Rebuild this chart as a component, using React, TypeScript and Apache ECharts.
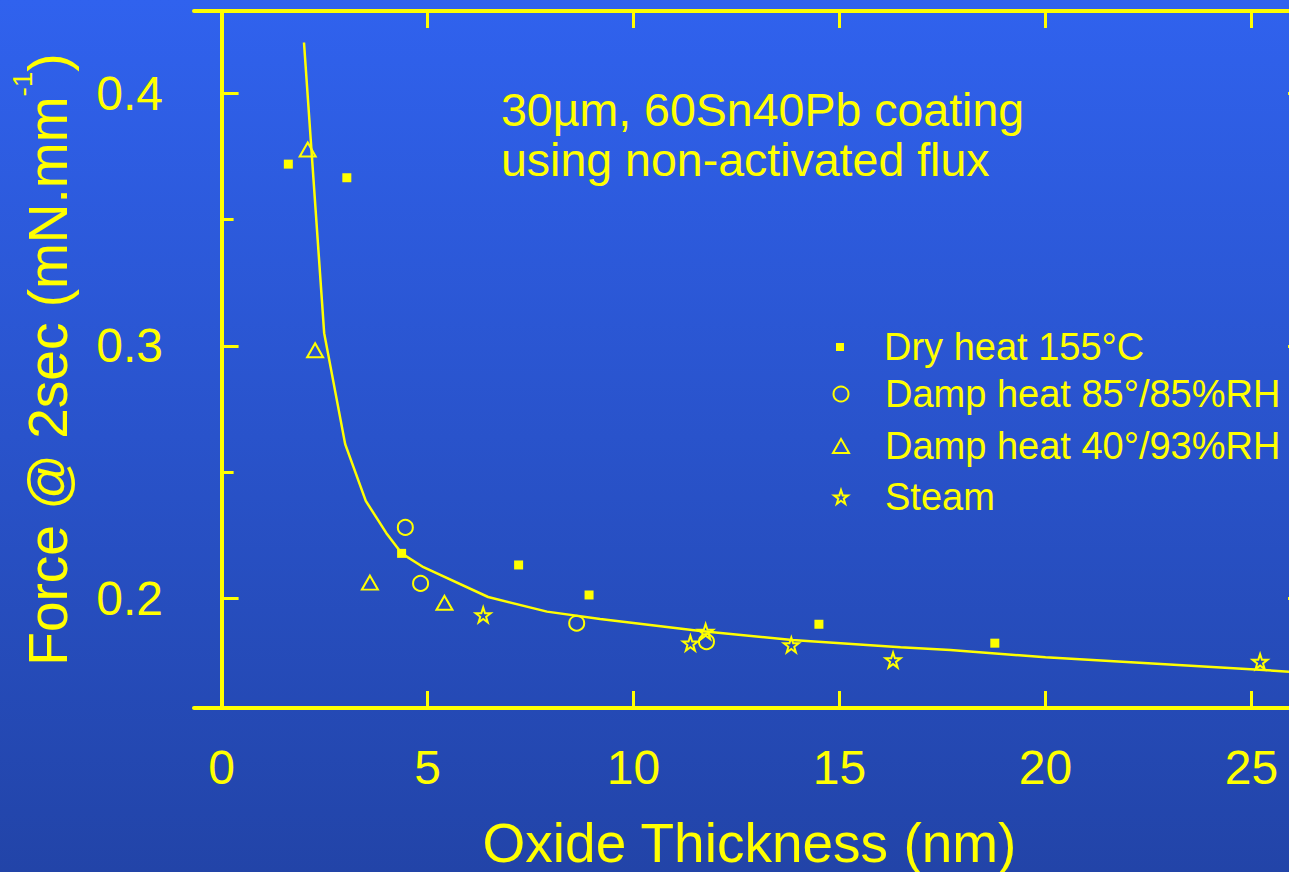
import React, { useEffect, useRef } from "react";
import * as echarts from "echarts";

const YELLOW = "#ffff00";
const FONT = "'Liberation Sans', Arial, Helvetica, sans-serif";

const xTicks = [0, 5, 10, 15, 20, 25];
const yMajorTicks = [0.2, 0.3, 0.4];
const yMinorTicks = [0.25, 0.35];

const seriesNames = ["Dry heat 155°C", "Damp heat 85°/85%RH", "Damp heat 40°/93%RH", "Steam"];

const dryHeat = [
  [1.62, 0.372], [3.04, 0.3666], [4.37, 0.2177], [7.21, 0.2131],
  [8.92, 0.2012], [14.5, 0.1896], [18.77, 0.1821],
];
const dampHeat85 = [
  [4.46, 0.228], [4.83, 0.2058], [8.62, 0.19], [11.77, 0.1827],
];
const dampHeat40 = [
  [2.09, 0.3778], [2.27, 0.2982], [3.6, 0.2061], [5.41, 0.1981],
];
const steam = [
  [6.35, 0.1933], [11.38, 0.1821], [11.75, 0.1867], [13.83, 0.1814],
  [16.3, 0.1754], [25.21, 0.1748],
];
const fitCurve = [
  [2.0, 0.4202], [2.49, 0.305], [3.0, 0.261], [3.5, 0.2385], [4.0, 0.2257],
  [4.37, 0.2177], [4.9, 0.2122], [6.47, 0.2004], [7.9, 0.1946], [9.19, 0.1917],
  [11.62, 0.1869], [13.85, 0.1834], [16.48, 0.1805], [17.69, 0.1794],
  [20.0, 0.1765], [24.98, 0.1718], [26.3, 0.1704],
];

const STAR =
  "path://M50,0 L61.8,35.1 L98.1,35.1 L68.8,56.7 L79.4,91 L50,70 L20.6,91 L31.2,56.7 L1.9,35.1 L38.2,35.1 Z";

const X_MIN = -0.67;
const X_MAX = 26.3;
const Y_MIN = 0.1564;
const Y_MAX = 0.4327;

export default function App() {
  const ref = useRef<HTMLDivElement>(null);

  useEffect(() => {
    if (!ref.current) return;
    const chart = echarts.init(ref.current, undefined, { renderer: "svg" });

    const hollow = { color: "rgba(0,0,0,0)", borderColor: YELLOW, borderWidth: 2, opacity: 1 };
    const filled = { color: YELLOW, opacity: 1 };
    const axisLine = { show: true, lineStyle: { color: YELLOW, width: 4 } };

    const legendIcons = [
      { icon: "rect", w: 8, h: 8, style: filled },
      { icon: "circle", w: 15, h: 15, style: hollow },
      { icon: "triangle", w: 16, h: 14, style: hollow },
      { icon: STAR, w: 14, h: 14, style: hollow },
    ];
    const legendRows = [347, 394, 446, 497];
    const iconCenterX = 840;
    const textStartX = 884;

    const option: any = {
      animation: false,
      backgroundColor: "transparent",
      textStyle: { fontFamily: FONT },
      grid: {
        left: 194,
        top: 11,
        bottom: 164,
        right: -16,
        containLabel: false,
        outerBoundsMode: "none",
      },
      legend: seriesNames.map((name, i) => {
        const ic = legendIcons[i];
        return {
          data: [{ name, icon: ic.icon, itemStyle: ic.style }],
          left: iconCenterX - ic.w / 2,
          top: legendRows[i] - 20,
          orient: "vertical",
          padding: 0,
          itemWidth: ic.w,
          itemHeight: ic.h,
          symbolKeepAspect: false,
          selectedMode: false,
          textStyle: {
            color: YELLOW,
            fontSize: 38,
            lineHeight: 40,
            fontFamily: FONT,
            padding: [0, 0, 0, textStartX - (iconCenterX + ic.w / 2 + 5)],
          },
        };
      }),
      xAxis: [
        {
          type: "value",
          position: "bottom",
          min: X_MIN,
          max: X_MAX,
          axisLine,
          splitLine: { show: false },
          axisTick: {
            show: true,
            inside: true,
            length: 17,
            customValues: xTicks,
            lineStyle: { color: YELLOW, width: 3 },
          },
          axisLabel: {
            customValues: xTicks,
            color: YELLOW,
            fontSize: 48,
            margin: 35,
            fontFamily: FONT,
          },
          name: "Oxide Thickness (nm)",
          nameLocation: "middle",
          nameGap: 107,
          nameTextStyle: { color: YELLOW, fontSize: 55, fontFamily: FONT },
        },
        {
          type: "value",
          position: "top",
          min: X_MIN,
          max: X_MAX,
          axisLine,
          splitLine: { show: false },
          axisTick: {
            show: true,
            inside: true,
            length: 17,
            customValues: xTicks,
            lineStyle: { color: YELLOW, width: 3 },
          },
          axisLabel: { show: false },
        },
      ],
      yAxis: [
        {
          type: "value",
          position: "left",
          min: Y_MIN,
          max: Y_MAX,
          axisLine,
          splitLine: { show: false },
          axisTick: {
            show: true,
            inside: true,
            length: 17,
            customValues: yMajorTicks,
            lineStyle: { color: YELLOW, width: 3 },
          },
          axisLabel: {
            customValues: yMajorTicks,
            color: YELLOW,
            fontSize: 48,
            margin: 31,
            fontFamily: FONT,
          },
          name: "{a|Force @ 2sec (mN.mm}{s|-1}{a|)}",
          nameLocation: "middle",
          nameRotate: 90,
          nameGap: 106,
          nameTextStyle: {
            color: YELLOW,
            fontSize: 55,
            fontFamily: FONT,
            rich: {
              a: { color: YELLOW, fontSize: 55, lineHeight: 80, fontFamily: FONT },
              s: { color: YELLOW, fontSize: 28, lineHeight: 22, verticalAlign: "top", fontFamily: FONT },
            },
          },
        },
        {
          type: "value",
          position: "left",
          min: Y_MIN,
          max: Y_MAX,
          axisLine: { show: false },
          splitLine: { show: false },
          axisTick: {
            show: true,
            inside: true,
            length: 12,
            customValues: yMinorTicks,
            lineStyle: { color: YELLOW, width: 3 },
          },
          axisLabel: { show: false },
        },
        {
          type: "value",
          position: "right",
          min: Y_MIN,
          max: Y_MAX,
          axisLine,
          splitLine: { show: false },
          axisTick: {
            show: true,
            inside: true,
            length: 17,
            customValues: yMajorTicks,
            lineStyle: { color: YELLOW, width: 3 },
          },
          axisLabel: { show: false },
        },
      ],
      graphic: [
        {
          type: "text",
          left: 501,
          top: 85,
          style: {
            text: "30µm, 60Sn40Pb coating\nusing non-activated flux",
            fill: YELLOW,
            font: `46.5px ${FONT}`,
            lineHeight: 50,
          },
        },
      ],
      series: [
        {
          name: "fit",
          type: "line",
          data: fitCurve,
          showSymbol: false,
          symbol: "none",
          lineStyle: { color: YELLOW, width: 2.5 },
          z: 1,
        },
        {
          name: seriesNames[0],
          type: "scatter",
          data: dryHeat,
          symbol: "rect",
          symbolSize: 9,
          itemStyle: filled,
          z: 3,
        },
        {
          name: seriesNames[1],
          type: "scatter",
          data: dampHeat85,
          symbol: "circle",
          symbolSize: 15,
          itemStyle: hollow,
          z: 3,
        },
        {
          name: seriesNames[2],
          type: "scatter",
          data: dampHeat40,
          symbol: "triangle",
          symbolSize: [16, 14],
          itemStyle: hollow,
          z: 3,
        },
        {
          name: seriesNames[3],
          type: "scatter",
          data: steam,
          symbol: STAR,
          symbolSize: 15,
          itemStyle: hollow,
          z: 3,
        },
      ],
    };

    chart.setOption(option);
    return () => chart.dispose();
  }, []);

  return (
    <div
      ref={ref}
      style={{
        position: "fixed",
        left: 0,
        top: 0,
        width: 1289,
        height: 872,
        background: "linear-gradient(180deg, #3062ee 0%, #2244a8 100%)",
      }}
    />
  );
}
